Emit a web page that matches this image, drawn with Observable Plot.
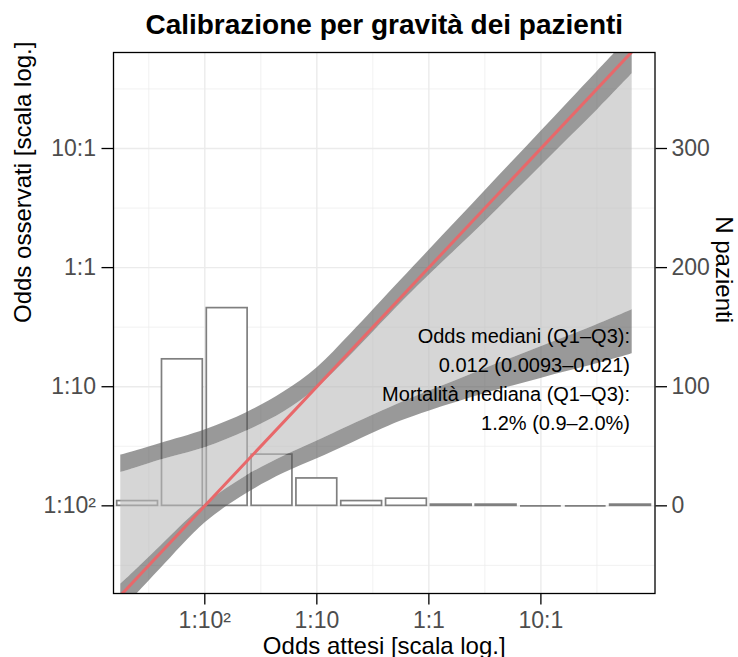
<!DOCTYPE html>
<html><head><meta charset="utf-8">
<script src="https://cdn.jsdelivr.net/npm/d3@7"></script>
<script src="https://cdn.jsdelivr.net/npm/@observablehq/plot@0.6"></script>
<style>body{margin:0;background:#fff;} svg{display:block}</style>
</head><body><div id="chart"></div>
<script>
// ---- Data (log10 odds) ----
const titleText = "Calibrazione per gravità dei pazienti";
const xTitle = "Odds attesi [scala log.]";
const yTitle = "Odds osservati [scala log.]";
const nTitle = "N pazienti";

const oddsTicks = [0.01, 0.1, 1, 10];
const oddsTickLabels = ["1:10²", "1:10", "1:1", "10:1"];
const nTicks = [0, 100, 200, 300];
const majorGridLog10 = [-2, -1, 0, 1];
const minorGridLog10 = [-2.5, -1.5, -0.5, 0.5, 1.5];

// histogram of patients by expected odds (bins on log10 scale)
const binStartLog10 = [-2.8, -2.4, -2.0, -1.6, -1.2, -0.8, -0.4, 0.0, 0.4, 0.8, 1.2, 1.6];
const binEndLog10   = [-2.4, -2.0, -1.6, -1.2, -0.8, -0.4, 0.0, 0.4, 0.8, 1.2, 1.6, 2.0];
const binCounts     = [4, 123, 166, 43, 23, 4, 6, 1, 1, 0, 0, 1];

// calibration curve bands
const expectedLog10 = [-2.75, -2.603, -2.395, -1.994, -1.622, -1.295, -0.997, -0.70, -0.254, 0, 0.25, 0.5, 0.75, 1.0, 1.25, 1.5, 1.815];
const upperTopLog10    = [-1.574, -1.535, -1.476, -1.361, -1.216, -1.045, -0.840, -0.560, -0.111, 0.143, 0.393, 0.643, 0.893, 1.143, 1.393, 1.643, 1.958];
const upperBottomLog10 = [-1.720, -1.678, -1.616, -1.510, -1.370, -1.212, -1.010, -0.740, -0.304, -0.067, 0.159, 0.384, 0.618, 0.852, 1.086, 1.320, 1.628];
const lowerTopLog10    = [-2.658, -2.528, -2.339, -1.985, -1.745, -1.584, -1.455, -1.325, -1.137, -1.039, -0.945, -0.850, -0.756, -0.665, -0.573, -0.479, -0.353];
const lowerBottomLog10 = [-2.874, -2.737, -2.529, -2.140, -1.895, -1.727, -1.605, -1.478, -1.290, -1.205, -1.130, -1.060, -0.993, -0.930, -0.869, -0.808, -0.723];

// identity (perfect calibration) line
const identityLog10 = [-2.75, 1.815];

const annotationLines = [
  "Odds mediani (Q1\u2013Q3):",
  "0.012 (0.0093\u20130.021)",
  "Mortalità mediana (Q1\u2013Q3):",
  "1.2% (0.9\u20132.0%)"
];

// ---- Derived tables ----
const p10 = v => 10 ** v;
const nToOdds = n => 10 ** (-2 + n / 100); // secondary axis: 0 patients at 1:10², 100 per decade
const near = (a, b) => Math.abs(Math.log10(a) - Math.log10(b)) < 1e-6;
const oddsLabel = d => oddsTickLabels[oddsTicks.findIndex(t => near(t, d))];
const nLabel = d => String(nTicks[nTicks.findIndex(n => near(nToOdds(n), d))]);
const hist = binStartLog10.map((s, i) => ({x1: p10(s), x2: p10(binEndLog10[i]), n: binCounts[i]}));
const band = expectedLog10.map((x, i) => ({
  x: p10(x), ut: p10(upperTopLog10[i]), ub: p10(upperBottomLog10[i]),
  lt: p10(lowerTopLog10[i]), lb: p10(lowerBottomLog10[i])
}));
const identity = identityLog10.map(v => ({x: p10(v), y: p10(v)}));

const W = 738, H = 657;
const mL = 113, mR = 83.5, mT = 52, mB = 64;
const font = "'Liberation Sans', Arial, Helvetica, sans-serif";
const baselines = [342, 371, 400, 429];

const chart = Plot.plot({
  width: W, height: H,
  marginTop: mT, marginBottom: mB, marginLeft: mL, marginRight: mR,
  style: {fontFamily: font, fontSize: "23px", background: "white", overflow: "visible"},
  x: {type: "log", domain: [10 ** -2.815, 10 ** 2.0185]},
  y: {type: "log", domain: [10 ** -2.736, 10 ** 1.806]},
  marks: [
    Plot.ruleX(minorGridLog10.map(p10), {stroke: "#ebebeb", strokeWidth: 0.7}),
    Plot.ruleY(minorGridLog10.map(p10), {stroke: "#ebebeb", strokeWidth: 0.7}),
    Plot.ruleX(majorGridLog10.map(p10), {stroke: "#ebebeb", strokeWidth: 1.4}),
    Plot.ruleY(majorGridLog10.map(p10), {stroke: "#ebebeb", strokeWidth: 1.4}),
    Plot.rect(hist.filter(d => d.n > 0), {
      x1: "x1", x2: "x2", y1: () => nToOdds(0), y2: d => nToOdds(d.n),
      insetLeft: 2, insetRight: 2, fill: "white", stroke: "#7f7f7f", strokeWidth: 1.7
    }),
    Plot.ruleY(hist.filter(d => d.n === 0), {
      x1: "x1", x2: "x2", y: () => nToOdds(0), insetLeft: 2, insetRight: 2,
      stroke: "#7f7f7f", strokeWidth: 1.7
    }),
    Plot.areaY(band, {x: "x", y1: "ub", y2: "lt", curve: "catmull-rom", fill: "#bbbbbb", fillOpacity: 0.6, clip: true}),
    Plot.areaY(band, {x: "x", y1: "ut", y2: "ub", curve: "catmull-rom", fill: "#555555", fillOpacity: 0.6, clip: true}),
    Plot.areaY(band, {x: "x", y1: "lt", y2: "lb", curve: "catmull-rom", fill: "#555555", fillOpacity: 0.6, clip: true}),
    Plot.line(identity, {x: "x", y: "y", stroke: "#e8686a", strokeWidth: 3, clip: true}),
    ...annotationLines.map((t, i) => Plot.text([t], {
      frameAnchor: "top-right", dx: -25, dy: baselines[i] - mT, lineAnchor: "bottom",
      textAnchor: "end", fontSize: 20, fill: "black"
    })),
    Plot.frame({stroke: "black", strokeWidth: 1.3}),
    Plot.axisX({ticks: oddsTicks, tickFormat: oddsLabel, tickSize: 11.5, tickPadding: 7,
      stroke: "black", strokeWidth: 1.3, fill: "#4d4d4d", fontSize: 23, label: null}),
    Plot.axisY({anchor: "left", ticks: oddsTicks, tickFormat: oddsLabel, tickSize: 11.5, tickPadding: 6,
      stroke: "black", strokeWidth: 1.3, fill: "#4d4d4d", fontSize: 23, label: null}),
    Plot.axisY({anchor: "right", ticks: nTicks.map(nToOdds), tickFormat: nLabel, tickSize: 11.5, tickPadding: 5,
      stroke: "black", strokeWidth: 1.3, fill: "#4d4d4d", fontSize: 23, label: null}),
    Plot.text([titleText], {frameAnchor: "top", dy: 33 - mT, lineAnchor: "bottom", fontSize: 28, fontWeight: "bold", fill: "black"}),
    Plot.text([xTitle], {frameAnchor: "bottom", dy: 653 - (H - mB), lineAnchor: "bottom", fontSize: 24, fill: "black"}),
    Plot.text([yTitle], {frameAnchor: "left", dx: 30.5 - mL, rotate: -90, lineAnchor: "bottom", fontSize: 24, fill: "black"}),
    Plot.text([nTitle], {frameAnchor: "right", dx: 715 - (W - mR), rotate: 90, lineAnchor: "bottom", fontSize: 24, fill: "black"})
  ]
});
document.getElementById("chart").appendChild(chart);
</script></body></html>
